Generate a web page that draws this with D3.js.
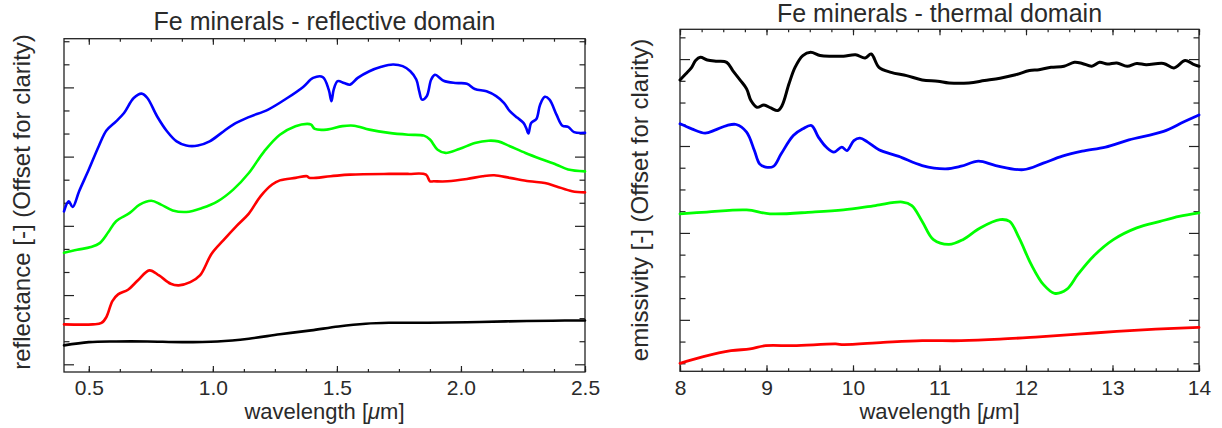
<!DOCTYPE html>
<html>
<head>
<meta charset="utf-8">
<script src="https://cdn.jsdelivr.net/npm/d3@7/dist/d3.min.js"></script>
<style>
  html, body { margin: 0; padding: 0; background: #fff; }
  svg { display: block; }
  text { font-family: "Liberation Sans", Arial, Helvetica, sans-serif; fill: #2a2a2a; }
</style>
</head>
<body>
<svg id="chart" width="1222" height="428"></svg>
<script>
// ---- Reflective domain (0.4 - 2.5 µm), offset reflectance in tick units ----
const reflBlueWl  = [0.40,0.419,0.435,0.461,0.50,0.54,0.571,0.61,0.642,0.681,0.713,0.736,0.775,0.815,0.854,0.893,0.94,0.987,1.035,1.082,1.145,1.223,1.30,1.364,1.404,1.443,1.467,1.478,1.487,1.503,1.529,1.553,1.584,1.631,1.679,1.726,1.765,1.796,1.82,1.832,1.843,1.862,1.88,1.895,1.93,1.977,2.024,2.056,2.103,2.142,2.173,2.197,2.228,2.252,2.263,2.272,2.283,2.304,2.319,2.338,2.357,2.385,2.409,2.432,2.456,2.50];
const reflBlueVal = [6.63,7.06,6.82,7.50,8.44,9.45,10.13,10.53,10.89,11.54,11.73,11.54,10.75,10.10,9.66,9.48,9.48,9.66,10.03,10.39,10.71,11.04,11.54,12.02,12.41,12.45,11.90,11.40,11.90,12.27,12.19,12.12,12.41,12.70,12.89,12.99,12.92,12.70,12.34,11.83,11.47,11.62,12.34,12.55,12.29,12.19,12.16,11.93,11.83,11.62,11.33,10.97,10.68,10.46,10.24,10.00,10.46,10.63,11.25,11.59,11.47,10.82,10.34,10.29,10.06,10.03];

const reflGreenWl  = [0.40,0.453,0.508,0.544,0.579,0.61,0.665,0.705,0.752,0.791,0.838,0.893,0.956,1.019,1.082,1.145,1.207,1.27,1.333,1.38,1.396,1.411,1.459,1.522,1.569,1.631,1.71,1.788,1.851,1.875,1.906,1.938,1.993,2.056,2.111,2.15,2.197,2.26,2.322,2.385,2.432,2.50];
const reflGreenVal = [4.83,4.96,5.08,5.25,5.73,6.20,6.56,6.92,7.09,6.92,6.67,6.60,6.77,7.06,7.57,8.29,9.23,9.95,10.32,10.42,10.39,10.20,10.17,10.32,10.34,10.17,10.03,9.95,9.91,9.74,9.30,9.16,9.33,9.59,9.69,9.66,9.45,9.16,8.90,8.65,8.44,8.36];

const reflRedWl  = [0.40,0.516,0.551,0.571,0.595,0.618,0.658,0.697,0.744,0.783,0.83,0.862,0.909,0.948,0.995,1.042,1.097,1.145,1.192,1.239,1.27,1.333,1.38,1.388,1.474,1.553,1.71,1.788,1.859,1.875,1.89,1.946,2.024,2.087,2.134,2.197,2.275,2.338,2.385,2.448,2.50];
const reflRedVal = [1.73,1.73,1.79,2.05,2.74,3.03,3.23,3.63,4.07,3.85,3.49,3.42,3.56,3.85,4.79,5.37,6.01,6.53,7.28,7.79,7.97,8.08,8.15,8.08,8.15,8.22,8.25,8.25,8.22,7.93,7.93,7.93,8.03,8.15,8.19,8.08,7.93,7.86,7.71,7.50,7.45];

const reflBlackWl  = [0.40,0.50,0.61,0.736,0.877,1.019,1.145,1.27,1.396,1.506,1.616,1.71,1.867,2.024,2.181,2.37,2.50];
const reflBlackVal = [0.82,0.96,0.99,0.99,0.96,0.99,1.11,1.30,1.47,1.64,1.76,1.80,1.80,1.82,1.86,1.89,1.90];

// ---- Thermal domain (8 - 14 µm), offset emissivity in tick units ----
const thermBlackWl  = [8.0,8.068,8.135,8.18,8.235,8.316,8.43,8.54,8.61,8.70,8.77,8.82,8.89,8.97,9.05,9.13,9.18,9.26,9.33,9.42,9.51,9.62,9.76,9.89,10.03,10.14,10.21,10.30,10.44,10.62,10.80,10.98,11.11,11.34,11.52,11.70,11.88,12.04,12.15,12.29,12.44,12.56,12.65,12.76,12.85,12.94,13.05,13.17,13.28,13.39,13.59,13.71,13.84,13.93,14.0];
const thermBlackVal = [13.04,13.32,13.62,13.93,14.08,13.96,13.90,13.85,13.47,13.01,12.63,12.09,11.78,11.89,11.75,11.63,11.86,12.86,13.62,14.16,14.31,14.16,14.13,14.13,14.20,14.05,14.23,13.62,13.39,13.24,13.04,12.98,12.90,12.90,13.01,13.12,13.28,13.47,13.51,13.62,13.67,13.85,13.80,13.67,13.85,13.77,13.82,13.67,13.80,13.74,13.80,13.59,13.93,13.77,13.67];

const thermBlueWl  = [8.0,8.135,8.29,8.41,8.54,8.65,8.77,8.86,8.92,8.99,9.08,9.17,9.31,9.42,9.52,9.60,9.69,9.78,9.87,9.93,10.01,10.08,10.17,10.30,10.53,10.80,11.07,11.25,11.45,11.65,11.97,12.20,12.42,12.65,12.92,13.19,13.59,13.82,14.0];
const thermBlueVal = [11.02,10.79,10.59,10.74,10.94,10.99,10.64,9.79,9.18,9.03,9.06,9.64,10.48,10.79,10.94,10.41,9.95,9.72,9.95,9.79,10.25,10.36,10.18,9.83,9.52,9.10,8.95,9.07,9.30,9.10,8.91,9.21,9.53,9.76,9.95,10.28,10.67,11.10,11.43];

const thermGreenWl  = [8.0,8.31,8.77,9.04,9.53,9.89,10.26,10.57,10.68,10.80,10.93,11.11,11.27,11.47,11.70,11.81,11.92,12.06,12.20,12.33,12.47,12.60,12.78,13.01,13.28,13.55,13.77,14.0];
const thermGreenVal = [6.88,6.96,7.06,6.88,6.96,7.06,7.26,7.42,7.26,6.53,5.69,5.47,5.69,6.23,6.61,6.53,5.77,4.55,3.63,3.22,3.40,4.09,4.93,5.69,6.23,6.53,6.76,6.92];

const thermRedWl  = [8.0,8.27,8.59,8.81,8.99,9.31,9.80,9.89,10.35,10.80,11.25,11.70,12.15,12.60,13.05,13.50,14.0];
const thermRedVal = [0.0,0.31,0.58,0.66,0.81,0.81,0.89,0.86,0.96,1.04,1.04,1.11,1.22,1.34,1.47,1.57,1.65];

// ---- Axis ticks and labels ----
const reflMajorTicks  = [0.5, 1.0, 1.5, 2.0, 2.5];
const reflMinorTicks  = d3.range(0.5, 2.5001, 0.125);
const thermMajorTicks = [8, 9, 10, 11, 12, 13, 14];
const thermMinorTicks = d3.range(8, 14.001, 0.25);
const reflYTicks  = d3.range(0, 15);   // major every third tick
const thermYTicks = d3.range(0, 16);   // major at 2, 6, 10, 14

const titles  = ["Fe minerals - reflective domain", "Fe minerals - thermal domain"];
const yLabels = ["reflectance [-] (Offset for clarity)", "emissivity [-] (Offset for clarity)"];
const xLabelParts = ["wavelength [", "\u03bc", "m]"];

const svg = d3.select("#chart");

function panel(cfg) {
  const x = d3.scaleLinear().domain(cfg.xDomain).range([cfg.left, cfg.right]);
  const y = d3.scaleLinear().domain(cfg.yDomain).range([cfg.bottom, cfg.top]);
  const g = svg.append("g");
  const axisColor = "#222";

  const strip = sel => { sel.select(".domain").remove(); sel.selectAll("line").attr("stroke", axisColor).attr("stroke-width", 1.2); };

  // bottom & top x axes (ticks point inwards)
  g.append("g").attr("transform", `translate(0,${cfg.bottom})`)
    .call(d3.axisBottom(x).tickValues(cfg.xMinor).tickSize(-3).tickFormat("")).call(strip);
  const bx = g.append("g").attr("transform", `translate(0,${cfg.bottom})`)
    .call(d3.axisBottom(x).tickValues(cfg.xMajor).tickSize(-6).tickPadding(8.5).tickFormat(cfg.xFormat)).call(strip);
  bx.selectAll("text").attr("font-size", 21).attr("fill", "#2a2a2a").style("font-family", '"Liberation Sans", Arial, sans-serif');
  g.append("g").attr("transform", `translate(0,${cfg.top})`)
    .call(d3.axisTop(x).tickValues(cfg.xMinor).tickSize(-3).tickFormat("")).call(strip);
  g.append("g").attr("transform", `translate(0,${cfg.top})`)
    .call(d3.axisTop(x).tickValues(cfg.xMajor).tickSize(-6).tickFormat("")).call(strip);

  // left & right y axes, unlabelled
  const isMajor = cfg.yIsMajor;
  const yMinor = cfg.yTicks.filter(v => !isMajor(v));
  const yMajor = cfg.yTicks.filter(isMajor);
  g.append("g").attr("transform", `translate(${cfg.left},0)`)
    .call(d3.axisLeft(y).tickValues(yMinor).tickSize(-5.5).tickFormat("")).call(strip);
  g.append("g").attr("transform", `translate(${cfg.left},0)`)
    .call(d3.axisLeft(y).tickValues(yMajor).tickSize(-10).tickFormat("")).call(strip);
  g.append("g").attr("transform", `translate(${cfg.right},0)`)
    .call(d3.axisRight(y).tickValues(yMinor).tickSize(-5.5).tickFormat("")).call(strip);
  g.append("g").attr("transform", `translate(${cfg.right},0)`)
    .call(d3.axisRight(y).tickValues(yMajor).tickSize(-10).tickFormat("")).call(strip);

  // frame
  g.append("rect")
    .attr("x", cfg.left).attr("y", cfg.top)
    .attr("width", cfg.right - cfg.left).attr("height", cfg.bottom - cfg.top)
    .attr("fill", "none").attr("stroke", axisColor).attr("stroke-width", 1.3);

  // spectra
  const line = d3.line().x(d => x(d[0])).y(d => y(d[1])).curve(d3.curveCatmullRom.alpha(0.5));
  cfg.series.forEach(s => {
    g.append("path")
      .datum(s.wl.map((w, i) => [w, s.val[i]]))
      .attr("fill", "none").attr("stroke", s.color)
      .attr("stroke-width", s.width).attr("stroke-linejoin", "round").attr("stroke-linecap", "round")
      .attr("d", line);
  });

  // title
  g.append("text").attr("x", (cfg.left + cfg.right) / 2).attr("y", cfg.titleY)
    .attr("text-anchor", "middle").attr("font-size", 25).text(cfg.title);

  // x label
  const xl = g.append("text").attr("x", (cfg.left + cfg.right) / 2).attr("y", 418.5)
    .attr("text-anchor", "middle").attr("font-size", 22);
  xl.append("tspan").text(xLabelParts[0]);
  xl.append("tspan").attr("font-style", "italic").text(xLabelParts[1]);
  xl.append("tspan").text(xLabelParts[2]);

  // y label
  g.append("text")
    .attr("transform", `translate(${cfg.yLabelX},${cfg.yLabelY}) rotate(-90)`)
    .attr("text-anchor", "middle").attr("font-size", 24).text(cfg.yLabel);
}

panel({
  left: 64, right: 585, top: 38.7, bottom: 372,
  xDomain: [0.4, 2.5], yDomain: [-0.334, 14.11],
  xMajor: reflMajorTicks, xMinor: reflMinorTicks, xFormat: d3.format(".1f"),
  yTicks: reflYTicks, yIsMajor: v => v % 3 === 0,
  title: titles[0], titleY: 30, yLabel: yLabels[0], yLabelX: 30, yLabelY: 202,
  series: [
    { wl: reflBlueWl,  val: reflBlueVal,  color: "#0000ff", width: 2.6 },
    { wl: reflGreenWl, val: reflGreenVal, color: "#00ff00", width: 2.6 },
    { wl: reflRedWl,   val: reflRedVal,   color: "#ff0000", width: 2.6 },
    { wl: reflBlackWl, val: reflBlackVal, color: "#000000", width: 2.6 }
  ]
});

panel({
  left: 680, right: 1199, top: 29.3, bottom: 371.3,
  xDomain: [8, 14], yDomain: [-0.368, 15.37],
  xMajor: thermMajorTicks, xMinor: thermMinorTicks, xFormat: d3.format("d"),
  yTicks: thermYTicks, yIsMajor: v => v % 4 === 2,
  title: titles[1], titleY: 21.7, yLabel: yLabels[1], yLabelX: 648, yLabelY: 200,
  series: [
    { wl: thermBlackWl, val: thermBlackVal, color: "#000000", width: 3 },
    { wl: thermBlueWl,  val: thermBlueVal,  color: "#0000ff", width: 2.8 },
    { wl: thermGreenWl, val: thermGreenVal, color: "#00ff00", width: 2.8 },
    { wl: thermRedWl,   val: thermRedVal,   color: "#ff0000", width: 2.8 }
  ]
});
</script>
</body>
</html>
